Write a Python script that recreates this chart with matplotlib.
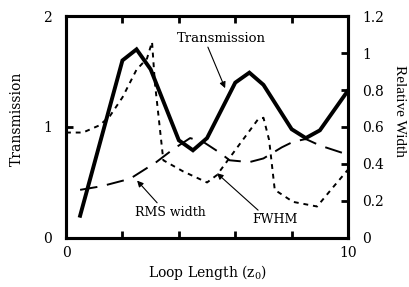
import matplotlib
matplotlib.use("Agg")
import matplotlib.pyplot as plt

# Transmission (left axis)
trans_x = [0.5, 2.0, 2.5, 3.0, 4.0, 4.5, 5.0, 6.0, 6.5, 7.0, 8.0, 8.5, 9.0, 10.0]
trans_y = [0.2, 1.6, 1.7, 1.52, 0.88, 0.79, 0.9, 1.4, 1.49, 1.38, 0.98, 0.9, 0.97, 1.33]

# FWHM (right axis)
fwhm_x = [0.0, 0.6, 1.2, 1.56, 2.0, 2.5, 2.87, 3.05, 3.15, 3.45, 4.15, 5.0, 5.35, 6.17, 6.8, 7.0, 7.2, 7.4, 8.05, 8.9, 9.5, 10.0]
fwhm_y = [0.57, 0.57, 0.61, 0.66, 0.76, 0.91, 0.97, 1.06, 0.84, 0.42, 0.36, 0.30, 0.34, 0.51, 0.64, 0.65, 0.53, 0.26, 0.195, 0.17, 0.28, 0.37]

# RMS width (right axis)
rms_x = [0.5, 1.27, 2.27, 3.2, 3.8, 4.4, 4.86, 5.46, 5.8, 6.5, 7.0, 7.65, 8.05, 8.5, 9.0, 9.8, 10.0]
rms_y = [0.26, 0.28, 0.32, 0.41, 0.48, 0.54, 0.52, 0.46, 0.42, 0.41, 0.43, 0.49, 0.52, 0.535, 0.50, 0.46, 0.45]

left_ticks = [0, 1, 2]
right_ticks = [0, 0.2, 0.4, 0.6, 0.8, 1.0, 1.2]
right_labels = ["0", "0.2", "0.4", "0.6", "0.8", "1", "1.2"]
x_ticks = [0, 2, 4, 6, 8, 10]
x_labels = ["0", "", "", "", "", "10"]

plt.rcParams['font.family'] = ['DejaVu Serif']
plt.rcParams['font.size'] = 10

fig = plt.figure(figsize=(4.10, 2.87), dpi=100)
ax = fig.add_axes([0.161, 0.171, 0.688, 0.773])
ax2 = ax.twinx()

ax.plot(trans_x, trans_y, color='black', lw=2.8, solid_joinstyle='miter')
ax2.plot(fwhm_x, fwhm_y, color='black', lw=1.4, linestyle=(0, (2.5, 2.5)))
ax2.plot(rms_x, rms_y, color='black', lw=1.4, linestyle=(0, (9, 5)))

ax.set_xlim(0, 10)
ax.set_ylim(0, 2)
ax2.set_ylim(0, 1.2)

ax.set_xticks(x_ticks)
ax.set_xticklabels(x_labels)
ax.set_yticks(left_ticks)
ax.set_yticklabels([str(t) for t in left_ticks])
ax2.set_yticks(right_ticks)
ax2.set_yticklabels(right_labels)

ax.tick_params(axis='x', direction='in', top=True, length=5, width=2, pad=6)
ax.tick_params(axis='y', direction='in', length=5, width=2, pad=10)
ax2.tick_params(axis='y', direction='in', length=5, width=2, pad=10)

for a in (ax, ax2):
    for s in a.spines.values():
        s.set_linewidth(2.2)

ax.set_xlabel(r'Loop Length (z$_\mathregular{0}$)', labelpad=2)
ax.set_ylabel('Transmission')
ax.yaxis.set_label_coords(-0.15, 0.536)
ax2.set_ylabel('Relative Width', rotation=-90, family='Liberation Serif', fontsize=11)
ax2.yaxis.set_label_coords(1.205, 0.572)

arrow = dict(arrowstyle='-|>', color='black', lw=0.8, mutation_scale=9, shrinkA=0, shrinkB=0)

ax.text(5.5, 1.8, 'Transmission', ha='center', va='center', fontsize=9.5)
ax.annotate('', xy=(5.64, 1.35), xytext=(5.03, 1.72), arrowprops=arrow)

ax2.text(3.69, 0.135, 'RMS width', ha='center', va='center', fontsize=9)
ax2.annotate('', xy=(2.52, 0.31), xytext=(3.23, 0.19), arrowprops=arrow)

ax2.text(7.41, 0.097, 'FWHM', ha='center', va='center', fontsize=9)
ax2.annotate('', xy=(5.35, 0.35), xytext=(6.81, 0.15), arrowprops=arrow)

fig.savefig('out.png', dpi=100)
